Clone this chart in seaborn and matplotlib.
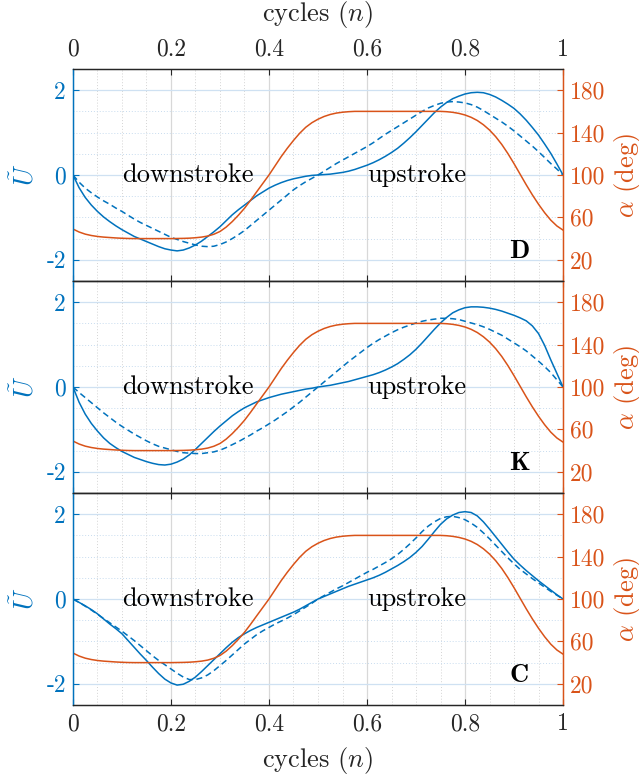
import numpy as np
import pandas as pd
import seaborn as sns
import matplotlib
matplotlib.use("Agg")
import matplotlib.pyplot as plt
from matplotlib.ticker import FixedLocator, FixedFormatter, MultipleLocator

# ---------------------------------------------------------------- data
# sample positions within one cycle (step 1/80)
n = list(np.round(np.arange(81) * 0.0125, 4))

# wing pitch angle (deg), common to all three kinematics
alpha = [49.0, 46.2, 44.2, 42.9, 42.0, 41.4, 41.0, 40.6, 40.3, 40.1,
         40.0, 40.0, 40.0, 40.0, 40.0, 40.0, 40.0, 40.1, 40.2, 40.4,
         40.8, 41.4, 42.4, 44.1, 46.7, 50.8, 56.0, 62.0, 68.6, 76.2,
         84.2, 92.1, 100.0, 108.7, 117.4, 125.3, 132.6, 139.3, 145.0, 149.3,
         152.6, 155.2, 157.1, 158.4, 159.2, 159.7, 160.0, 160.0, 160.0, 160.0,
         160.0, 160.0, 160.0, 160.0, 160.0, 160.0, 160.0, 160.0, 160.0, 160.0,
         160.0, 159.7, 159.1, 158.1, 156.6, 154.4, 151.4, 147.4, 142.4, 136.2,
         128.8, 120.2, 110.7, 100.7, 90.7, 81.2, 72.4, 64.4, 57.4, 51.9,
         48.0]

# normalised velocity: solid = measured profile, dashed = reference profile
u_solid_D = [0.00, -0.30, -0.53, -0.71, -0.86, -0.99, -1.10, -1.20, -1.29, -1.37,
             -1.45, -1.51, -1.57, -1.63, -1.69, -1.74, -1.77, -1.79, -1.77, -1.72,
             -1.65, -1.56, -1.45, -1.34, -1.22, -1.08, -0.94, -0.82, -0.71, -0.60,
             -0.49, -0.40, -0.31, -0.24, -0.18, -0.13, -0.09, -0.06, -0.03, -0.01,
             0.00, 0.01, 0.02, 0.04, 0.06, 0.09, 0.13, 0.18, 0.23, 0.29,
             0.36, 0.44, 0.53, 0.63, 0.75, 0.88, 1.02, 1.17, 1.32, 1.47,
             1.60, 1.71, 1.80, 1.86, 1.91, 1.94, 1.95, 1.94, 1.90, 1.84,
             1.76, 1.67, 1.57, 1.44, 1.29, 1.12, 0.94, 0.73, 0.51, 0.26,
             0.00]
u_dashed_D = [0.00, -0.17, -0.31, -0.42, -0.52, -0.61, -0.69, -0.78, -0.86, -0.95,
              -1.04, -1.12, -1.19, -1.26, -1.33, -1.40, -1.47, -1.52, -1.57, -1.61,
              -1.65, -1.68, -1.69, -1.68, -1.64, -1.58, -1.50, -1.41, -1.31, -1.19,
              -1.07, -0.95, -0.83, -0.71, -0.59, -0.47, -0.35, -0.25, -0.16, -0.08,
              0.00, 0.09, 0.18, 0.27, 0.35, 0.43, 0.51, 0.59, 0.67, 0.76,
              0.86, 0.96, 1.05, 1.14, 1.23, 1.32, 1.41, 1.50, 1.58, 1.64,
              1.69, 1.72, 1.73, 1.72, 1.70, 1.66, 1.60, 1.52, 1.43, 1.34,
              1.25, 1.15, 1.04, 0.92, 0.80, 0.68, 0.55, 0.41, 0.27, 0.14,
              0.00]

u_solid_K = [0.00, -0.36, -0.64, -0.86, -1.04, -1.20, -1.33, -1.43, -1.52, -1.59,
             -1.66, -1.71, -1.76, -1.80, -1.83, -1.84, -1.82, -1.77, -1.70, -1.60,
             -1.47, -1.33, -1.19, -1.05, -0.92, -0.80, -0.68, -0.58, -0.49, -0.42,
             -0.35, -0.30, -0.25, -0.21, -0.17, -0.14, -0.11, -0.08, -0.05, -0.03,
             0.00, 0.02, 0.04, 0.07, 0.10, 0.13, 0.17, 0.21, 0.25, 0.29,
             0.34, 0.40, 0.47, 0.55, 0.65, 0.76, 0.89, 1.04, 1.20, 1.36,
             1.51, 1.64, 1.75, 1.82, 1.87, 1.89, 1.89, 1.88, 1.86, 1.83,
             1.79, 1.74, 1.69, 1.63, 1.56, 1.44, 1.26, 0.98, 0.64, 0.32,
             0.00]
u_dashed_K = [0.00, -0.13, -0.25, -0.37, -0.49, -0.61, -0.72, -0.83, -0.93, -1.02,
              -1.11, -1.19, -1.27, -1.34, -1.40, -1.44, -1.48, -1.52, -1.55, -1.56,
              -1.57, -1.57, -1.55, -1.53, -1.49, -1.43, -1.36, -1.29, -1.21, -1.13,
              -1.04, -0.96, -0.87, -0.78, -0.68, -0.58, -0.47, -0.36, -0.24, -0.12,
              0.00, 0.12, 0.24, 0.36, 0.48, 0.60, 0.71, 0.82, 0.93, 1.03,
              1.12, 1.20, 1.28, 1.35, 1.41, 1.46, 1.51, 1.55, 1.58, 1.60,
              1.62, 1.62, 1.61, 1.59, 1.55, 1.51, 1.47, 1.42, 1.36, 1.29,
              1.22, 1.13, 1.04, 0.95, 0.85, 0.73, 0.61, 0.48, 0.34, 0.17,
              0.00]

u_solid_C = [0.00, -0.08, -0.16, -0.25, -0.35, -0.47, -0.59, -0.70, -0.82, -0.98,
             -1.14, -1.30, -1.45, -1.61, -1.76, -1.89, -1.98, -2.03, -2.01, -1.94,
             -1.84, -1.71, -1.57, -1.43, -1.29, -1.15, -1.02, -0.91, -0.82, -0.74,
             -0.67, -0.61, -0.55, -0.49, -0.43, -0.37, -0.31, -0.24, -0.16, -0.08,
             0.00, 0.06, 0.12, 0.18, 0.24, 0.30, 0.35, 0.40, 0.45, 0.50,
             0.56, 0.63, 0.71, 0.79, 0.88, 0.98, 1.10, 1.24, 1.41, 1.59,
             1.76, 1.89, 1.98, 2.04, 2.06, 2.04, 1.96, 1.82, 1.65, 1.47,
             1.29, 1.11, 0.94, 0.80, 0.67, 0.55, 0.43, 0.32, 0.21, 0.10,
             0.00]
u_dashed_C = [0.00, -0.08, -0.17, -0.26, -0.36, -0.46, -0.56, -0.66, -0.76, -0.87,
              -0.98, -1.10, -1.22, -1.34, -1.45, -1.55, -1.65, -1.75, -1.84, -1.90,
              -1.90, -1.86, -1.79, -1.69, -1.57, -1.45, -1.32, -1.19, -1.06, -0.95,
              -0.84, -0.75, -0.67, -0.59, -0.52, -0.45, -0.37, -0.28, -0.19, -0.10,
              0.00, 0.08, 0.16, 0.24, 0.31, 0.39, 0.47, 0.55, 0.63, 0.70,
              0.78, 0.86, 0.95, 1.05, 1.17, 1.30, 1.44, 1.59, 1.72, 1.82,
              1.90, 1.94, 1.95, 1.92, 1.87, 1.79, 1.69, 1.56, 1.42, 1.27,
              1.12, 0.97, 0.83, 0.70, 0.59, 0.48, 0.38, 0.28, 0.18, 0.09,
              0.00]

panel_names = ["D", "K", "C"]
u_solid = [u_solid_D, u_solid_K, u_solid_C]
u_dashed = [u_dashed_D, u_dashed_K, u_dashed_C]

x_ticks = [0, 0.2, 0.4, 0.6, 0.8, 1]
x_labels = ["0", "0.2", "0.4", "0.6", "0.8", "1"]
u_ticks = [-2, 0, 2]
u_labels = ["-2", "0", "2"]
a_ticks = [20, 60, 100, 140, 180]
a_labels = ["20", "60", "100", "140", "180"]

# ---------------------------------------------------------------- style
BLUE = "#0072BD"
ORANGE = "#D95319"
DARK = "#262626"

sns.set_style("white")
plt.rcParams.update({
    "font.family": ["cmr10", "DejaVu Serif"],
    "mathtext.fontset": "cm",
    "axes.formatter.use_mathtext": True,
    "axes.unicode_minus": False,
    "axes.linewidth": 0.8,
})

TICK_FS = 17
LABEL_FS = 19

fig, axes = plt.subplots(3, 1, figsize=(6.39, 7.75), dpi=100, sharex=True)
fig.subplots_adjust(left=0.1142, right=0.8811, top=0.9110, bottom=0.0903, hspace=0)

for i, ax in enumerate(axes):
    df_u = pd.DataFrame({
        "n": n * 2,
        "U": u_solid[i] + u_dashed[i],
        "kind": ["solid"] * len(n) + ["dashed"] * len(n),
    })
    df_a = pd.DataFrame({"n": n, "alpha": alpha})

    ax2 = ax.twinx()

    sns.lineplot(data=df_u, x="n", y="U", style="kind",
                 dashes={"solid": "", "dashed": (4, 2.5)},
                 color=BLUE, lw=1.1, legend=False, ax=ax, zorder=3)
    sns.lineplot(data=df_a, x="n", y="alpha", color=ORANGE, lw=1.1,
                 legend=False, ax=ax2, zorder=2)

    ax.set_xlim(0, 1)
    ax.set_ylim(-2.5, 2.5)
    ax2.set_ylim(0, 200)

    # x axis
    ax.xaxis.set_major_locator(FixedLocator(x_ticks))
    ax.xaxis.set_major_formatter(FixedFormatter(x_labels))
    ax.xaxis.set_minor_locator(MultipleLocator(0.05))
    # left axis
    ax.yaxis.set_major_locator(FixedLocator(u_ticks))
    ax.yaxis.set_major_formatter(FixedFormatter(u_labels))
    ax.yaxis.set_minor_locator(MultipleLocator(0.5))
    # right axis
    ax2.yaxis.set_major_locator(FixedLocator(a_ticks))
    ax2.yaxis.set_major_formatter(FixedFormatter(a_labels))

    # grid lines
    ax.set_axisbelow(True)
    ax.grid(which="major", axis="x", color="#d8d8d8", lw=0.9, ls="-")
    ax.grid(which="major", axis="y", color="#cfe1f2", lw=0.9, ls="-")
    ax.grid(which="minor", axis="x", color="#d4d4d4", lw=0.7, ls=(0, (1, 2)))
    ax.grid(which="minor", axis="y", color="#c8dcef", lw=0.7, ls=(0, (1, 2)))
    ax2.grid(False)

    ax.tick_params(axis="x", which="major", direction="in", top=True, bottom=True,
                   length=4.5, width=0.8, color=DARK, labelsize=TICK_FS,
                   labelcolor=DARK, labelbottom=False, labeltop=False, pad=6)
    ax.tick_params(axis="both", which="minor", length=0)
    ax.tick_params(axis="y", which="major", direction="in", left=True, right=False,
                   length=4.5, width=0.8, color=BLUE, labelcolor=BLUE,
                   labelsize=TICK_FS, pad=5)
    ax2.tick_params(axis="y", which="major", direction="in", left=False, right=True,
                    length=4.5, width=0.8, color=ORANGE, labelcolor=ORANGE,
                    labelsize=TICK_FS, pad=5)
    ax2.tick_params(axis="y", which="minor", length=0)

    for a in (ax, ax2):
        a.spines["top"].set_color(DARK)
        a.spines["bottom"].set_color(DARK)
        a.spines["left"].set_color(BLUE)
        a.spines["right"].set_color(ORANGE)
        for s in a.spines.values():
            s.set_linewidth(0.9)

    ax.set_xlabel("")
    ax.set_ylabel(r"$\tilde{U}$", color=BLUE, fontsize=LABEL_FS)
    ax.yaxis.set_label_coords(-0.10, 0.5)
    ax.yaxis.label.set_va("center")
    ax2.set_ylabel(r"$\alpha$ (deg)", color=ORANGE, fontsize=LABEL_FS)
    ax2.yaxis.set_label_coords(1.131, 0.5)
    ax2.yaxis.label.set_va("center")

    ax.text(0.10, 0.0, "downstroke", fontsize=LABEL_FS, ha="left", va="center",
            color="black", zorder=5)
    ax.text(0.60, 0.0, "upstroke", fontsize=LABEL_FS, ha="left", va="center",
            color="black", zorder=5)
    ax.text(0.89, -1.8, panel_names[i], fontsize=LABEL_FS, family="cmb10",
            ha="left", va="center", color="black", zorder=5)

# tick labels on top of the first panel and below the last one
axes[0].tick_params(axis="x", which="major", labeltop=True)
axes[-1].tick_params(axis="x", which="major", labelbottom=True)

# shared abscissa title, above and below the stack
x_mid = (0.1142 + 0.8811) / 2
fig.text(x_mid, 1 - 14 / 775, "cycles ($n$)", fontsize=LABEL_FS, color=DARK,
         ha="center", va="center")
fig.text(x_mid, 1 - 760 / 775, "cycles ($n$)", fontsize=LABEL_FS, color=DARK,
         ha="center", va="center")

fig.savefig("out.png", dpi=100)
